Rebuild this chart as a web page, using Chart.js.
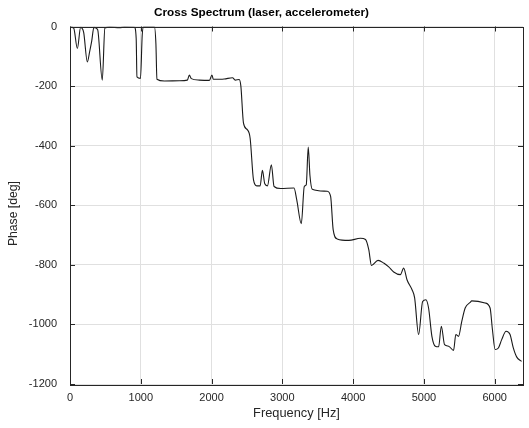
<!DOCTYPE html>
<html>
<head>
<meta charset="utf-8">
<script src="https://cdn.jsdelivr.net/npm/chart.js@4/dist/chart.umd.min.js"></script>
<style>
  html, body { margin: 0; padding: 0; background: #fff; }
  #wrap { width: 529px; height: 428px; }
</style>
</head>
<body>
<div id="wrap"><canvas id="c" width="529" height="428"></canvas></div>
<script>
// Cross-spectrum phase between the laser and the accelerometer signals
const freqHz = [
  0, 10, 52, 104, 150, 193, 245, 277, 306, 338, 390, 456, 493, 560, 700, 770, 911,
  935, 946, 996, 1020, 1038, 1193, 1214, 1228, 1334, 1545, 1658, 1686, 1714, 1827,
  1969, 2006, 2024, 2179, 2296, 2334, 2390, 2414, 2451, 2507, 2545, 2592, 2639,
  2686, 2718, 2752, 2789, 2845, 2883, 2977, 3165, 3203, 3268, 3310, 3338, 3366,
  3390, 3423, 3634, 3682, 3718, 3775, 3939, 4104, 4175, 4221, 4259, 4352, 4432,
  4503, 4573, 4668, 4714, 4761, 4831, 4869, 4925, 4982, 5028, 5066, 5113, 5161,
  5208, 5246, 5292, 5349, 5419, 5451, 5489, 5535, 5583, 5654, 5676, 5865, 5935,
  5968, 6006, 6052, 6099, 6161, 6217, 6263, 6310, 6380
];
const phaseDeg = [
  -2, -2, -5, -74, -3, -20, -119, -85, -50, -3, -10, -180, -5, -2, -4, -2, -3,
  -40, -169, -174, -30, -2, -2, -60, -177, -183, -182, -180, -163, -175, -180,
  -181, -163, -177, -176, -172, -180, -178, -200, -324, -347, -375, -514, -535,
  -535, -483, -528, -535, -464, -537, -544, -542, -581, -662, -537, -531, -405,
  -500, -546, -553, -570, -682, -713, -718, -711, -715, -749, -802, -785, -794,
  -807, -824, -833, -811, -850, -883, -911, -1034, -923, -917, -945, -1040, -1073,
  -1075, -1006, -1068, -1073, -1087, -1034, -1040, -990, -945, -926, -921, -928, -945,
  -1017, -1084, -1079, -1051, -1023, -1034, -1079, -1109, -1124
];
const xTickValues = [0, 1000, 2000, 3000, 4000, 5000, 6000];
const yTickValues = [0, -200, -400, -600, -800, -1000, -1200];
const yAxisLabel = 'Phase [deg]';

const FONT = '"Liberation Sans", Arial, Helvetica, sans-serif';
const TEXT = '#262626';

// Axes box with inward tick marks on all four sides, plus the rotated y-axis label
const boxTicks = {
  id: 'boxTicks',
  afterDatasetsDraw(chart) {
    const { ctx, chartArea: a, scales: { x, y } } = chart;
    const len = 5;
    ctx.save();
    ctx.strokeStyle = '#262626';
    ctx.lineWidth = 1;
    ctx.beginPath();
    x.ticks.forEach(t => {
      const px = Math.round(x.getPixelForValue(t.value)) + 0.5;
      ctx.moveTo(px, a.bottom); ctx.lineTo(px, a.bottom - len);
      ctx.moveTo(px, a.top); ctx.lineTo(px, a.top + len);
    });
    y.ticks.forEach(t => {
      const py = Math.round(y.getPixelForValue(t.value)) + 0.5;
      ctx.moveTo(a.left, py); ctx.lineTo(a.left + len, py);
      ctx.moveTo(a.right, py); ctx.lineTo(a.right - len, py);
    });
    ctx.stroke();
    ctx.strokeRect(Math.round(a.left) + 0.5, Math.round(a.top) + 0.5,
                   Math.round(a.right - a.left), Math.round(a.bottom - a.top));

    // y-axis label, sitting a little below the middle of the axis
    const cy = y.getPixelForValue(-628);
    ctx.translate(14, cy);
    ctx.rotate(-Math.PI / 2);
    ctx.fillStyle = TEXT;
    ctx.font = '12.2px ' + FONT;
    ctx.textAlign = 'center';
    ctx.textBaseline = 'middle';
    ctx.fillText(yAxisLabel, 0, 0);
    ctx.restore();
  }
};

new Chart(document.getElementById('c'), {
  type: 'line',
  data: {
    datasets: [{
      data: freqHz.map((f, i) => ({ x: f, y: phaseDeg[i] })),
      borderColor: '#1a1a1a',
      borderWidth: 1.1,
      pointRadius: 0,
      fill: false,
      cubicInterpolationMode: 'monotone'
    }]
  },
  options: {
    responsive: false,
    animation: false,
    layout: { padding: { left: 0, right: 6, top: 0, bottom: 0 } },
    plugins: {
      legend: { display: false },
      tooltip: { enabled: false },
      title: {
        display: true,
        text: 'Cross Spectrum (laser, accelerometer)',
        color: '#000',
        font: { family: FONT, size: 11.75, weight: 'bold' },
        padding: { top: 6, bottom: 6.4 }
      }
    },
    scales: {
      x: {
        type: 'linear',
        min: 0,
        max: 6400,
        afterBuildTicks: s => { s.ticks = xTickValues.map(v => ({ value: v })); },
        afterFit: s => { s.height = 44; },
        grid: { color: '#e0e0e0', drawTicks: false },
        border: { display: false },
        ticks: {
          color: TEXT, padding: 7, maxRotation: 0,
          font: { family: FONT, size: 11 },
          callback: v => String(v)
        },
        title: {
          display: true,
          text: 'Frequency [Hz]',
          color: TEXT,
          font: { family: FONT, size: 12.8 },
          padding: { top: 0, bottom: 6.8 }
        }
      },
      y: {
        type: 'linear',
        min: -1200,
        max: 0,
        afterBuildTicks: s => { s.ticks = yTickValues.map(v => ({ value: v })); },
        afterFit: s => { s.width = 70; },
        grid: { color: '#e0e0e0', drawTicks: false },
        border: { display: false },
        ticks: {
          color: TEXT, padding: 13,
          font: { family: FONT, size: 11 },
          callback: v => String(v)
        },
        title: { display: false }
      }
    }
  },
  plugins: [boxTicks]
});
</script>
</body>
</html>
